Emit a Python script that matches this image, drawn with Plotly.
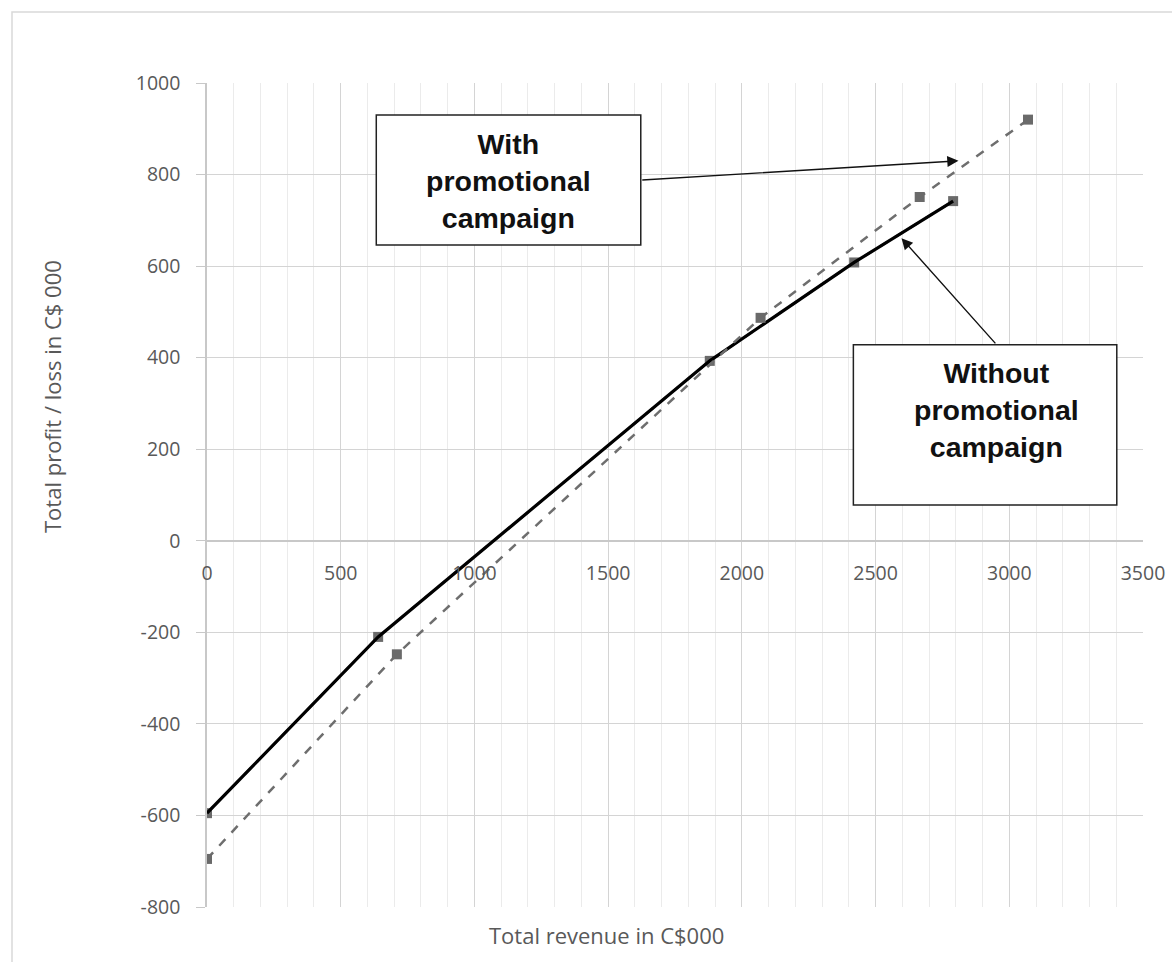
import plotly.graph_objects as go

# Break-even data, revenue and profit in C$000
without_revenue = [0, 640, 1880, 2420, 2790]
without_profit = [-595, -210, 393, 608, 742]

with_revenue = [0, 710, 2070, 2665, 3070]
with_profit = [-695, -248, 487, 751, 920]

x_ticks = [0, 500, 1000, 1500, 2000, 2500, 3000, 3500]
y_ticks = [-800, -600, -400, -200, 0, 200, 400, 600, 800, 1000]

W, H = 1172, 962
L, R, T, B = 207, 29, 83, 55

TICK_FONT = dict(family="Open Sans", size=19.5, color="#595959")
TITLE_FONT = dict(family="Open Sans", size=22, color="#595959")
BOX_FONT = dict(family="Liberation Sans, Arial", size=28.5, color="#111111")
MARKER_GREY = "#6a6a6a"


def px_to_paper_x(px):
    return (px - L) / (W - L - R)


def py_to_paper_y(py):
    return (H - B - py) / (H - T - B)


fig = go.Figure()

# Without campaign: grey dashed series with markers, bold black line over it
fig.add_trace(go.Scatter(
    x=without_revenue, y=without_profit, mode="lines+markers",
    line=dict(color="#707070", width=2.5, dash="dash"),
    marker=dict(color=MARKER_GREY, size=10, symbol="square"),
    showlegend=False, hoverinfo="skip"))
fig.add_trace(go.Scatter(
    x=without_revenue, y=without_profit, mode="lines",
    line=dict(color="#000000", width=3.2),
    showlegend=False, hoverinfo="skip"))

# With campaign: grey dashed series with markers
fig.add_trace(go.Scatter(
    x=with_revenue, y=with_profit, mode="lines+markers",
    line=dict(color="#6e6e6e", width=2.5, dash="dash"),
    marker=dict(color=MARKER_GREY, size=10, symbol="square"),
    showlegend=False, hoverinfo="skip"))

# Callout boxes
fig.add_shape(type="rect", xref="x", yref="y", x0=633, x1=1622, y0=646, y1=930,
              line=dict(color="#222222", width=1.5), fillcolor="white", layer="above")
fig.add_shape(type="rect", xref="x", yref="y", x0=2417, x1=3402, y0=78, y1=428,
              line=dict(color="#222222", width=1.5), fillcolor="white", layer="above")

fig.add_annotation(x=1128, y=786, xref="x", yref="y", showarrow=False,
                   xanchor="center", yanchor="middle",
                   text="<b>With<br>promotional<br>campaign</b>", font=BOX_FONT, align="center")
fig.add_annotation(x=2953, y=286, xref="x", yref="y", showarrow=False,
                   xanchor="center", yanchor="middle",
                   text="<b>Without<br>promotional<br>campaign</b>", font=BOX_FONT, align="center")

# Arrows from the boxes to the lines
fig.add_annotation(x=2810, y=830, ax=1622, ay=788, xref="x", yref="y", axref="x", ayref="y",
                   text="", showarrow=True, arrowhead=2, arrowsize=1.6, arrowwidth=1.4,
                   arrowcolor="#111111")
fig.add_annotation(x=2597, y=661, ax=2953, ay=428, xref="x", yref="y", axref="x", ayref="y",
                   text="", showarrow=True, arrowhead=2, arrowsize=1.6, arrowwidth=1.4,
                   arrowcolor="#111111")

# Axis titles
fig.add_annotation(x=px_to_paper_x(606), y=py_to_paper_y(935),
                   xref="paper", yref="paper", showarrow=False,
                   xanchor="center", yanchor="middle",
                   text="Total revenue in C$000", font=TITLE_FONT)
fig.add_annotation(x=px_to_paper_x(52), y=py_to_paper_y(397),
                   xref="paper", yref="paper", showarrow=False, textangle=-90,
                   xanchor="center", yanchor="middle",
                   text="Total profit / loss in C$ 000", font=TITLE_FONT)

# Outer chart border
fig.add_shape(type="rect", xref="paper", yref="paper",
              x0=px_to_paper_x(12), x1=1.2, y0=-0.3, y1=py_to_paper_y(12),
              line=dict(color="#d9d9d9", width=1.5), fillcolor="rgba(0,0,0,0)", layer="below")

fig.update_layout(
    width=W, height=H,
    margin=dict(l=L, r=R, t=T, b=B, autoexpand=False),
    paper_bgcolor="white", plot_bgcolor="white",
    xaxis=dict(
        range=[0, 3500], tickvals=x_ticks, ticktext=[str(v) for v in x_ticks],
        anchor="free", position=800 / 1800, automargin=False,
        showgrid=True, gridcolor="#d4d4d4", gridwidth=1.2,
        minor=dict(dtick=100, showgrid=True, gridcolor="#ebebeb", gridwidth=1),
        showline=False, zeroline=False,
        ticks="outside", ticklen=15, tickcolor="rgba(0,0,0,0)",
        tickfont=TICK_FONT,
    ),
    yaxis=dict(
        range=[-800, 1000], tickvals=y_ticks, ticktext=[str(v) for v in y_ticks],
        automargin=False,
        showgrid=True, gridcolor="#d4d4d4", gridwidth=1.2,
        zeroline=True, zerolinecolor="#c8c8c8", zerolinewidth=1.5,
        showline=True, linecolor="#c8c8c8", linewidth=1.5,
        ticks="outside", ticklen=9, tickcolor="#c8c8c8",
        ticklabelstandoff=12,
        tickfont=TICK_FONT,
    ),
)

fig.write_html("out.html")
